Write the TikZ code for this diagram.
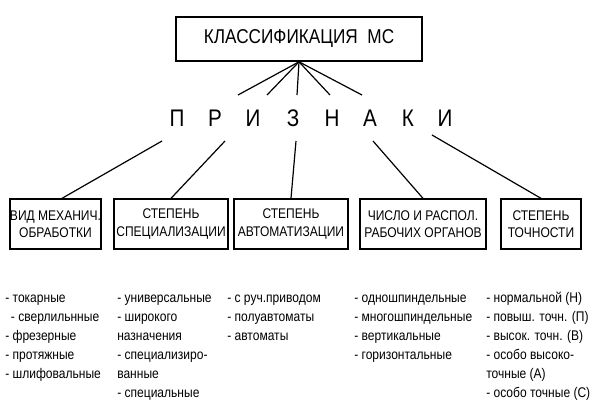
\documentclass[tikz,border=0pt]{standalone}
\usepackage{fontspec}
\setmainfont[FakeStretch=0.86]{Liberation Sans}
\begin{document}
\begin{tikzpicture}[x=0.75pt,y=0.75pt,yscale=-1,xscale=1,
  box/.style={draw,line width=1pt,align=center,inner sep=0pt,font=\fontsize{10.5}{13}\selectfont},
  item/.style={anchor=base west,inner sep=0pt,font=\fontsize{10.5}{12}\selectfont},
  conn/.style={line width=0.9pt}]
\useasboundingbox (0,0) rectangle (613,412);

% title
\node [draw,line width=1.2pt,minimum width=246*0.75pt,minimum height=44*0.75pt,font=\fontsize{15}{17}\selectfont] (title) at (299,39) {КЛАССИФИКАЦИЯ~~МС};

% letters
\foreach \ch/\xx [count=\i] in {П/177,Р/215,И/253,З/293,Н/332,А/370,К/408,И/445}
  \node [font=\fontsize{18}{20}\selectfont,inner sep=0pt] (L\i) at (\xx,118) {\ch};

% fan ends
\foreach \xx [count=\i] in {238,267,297,330,362}
  \coordinate (f\i) at (\xx,95);
\foreach \i in {1,...,5}
  \draw [conn] (title.south) -- (f\i);

% boxes
\node [box,minimum width=87*0.75pt,minimum height=50*0.75pt] (b1) at (55.5,224) {ВИД МЕХАНИЧ.\\ОБРАБОТКИ};
\node [box,minimum width=114*0.75pt,minimum height=50*0.75pt] (b2) at (171,224) {СТЕПЕНЬ\\СПЕЦИАЛИЗАЦИИ};
\node [box,minimum width=114*0.75pt,minimum height=50*0.75pt] (b3) at (291,224) {СТЕПЕНЬ\\АВТОМАТИЗАЦИИ};
\node [box,minimum width=126*0.75pt,minimum height=50*0.75pt] (b4) at (423,224) {ЧИСЛО И РАСПОЛ.\\РАБОЧИХ ОРГАНОВ};
\node [box,minimum width=80*0.75pt,minimum height=50*0.75pt] (b5) at (541,224) {СТЕПЕНЬ\\ТОЧНОСТИ};

% lower connectors
\coordinate (s1) at (162,141);
\coordinate (s2) at (225,141);
\coordinate (s3) at (296,141);
\coordinate (s4) at (373,141);
\coordinate (s5) at (432,135);
\draw [conn] (s1) -- (b1.north -| 62,0);
\draw [conn] (s2) -- (b2.north);
\draw [conn] (s3) -- (b3.north);
\draw [conn] (s4) -- (b4.north);
\draw [conn] (s5) -- (b5.north);

% lists
\foreach \t [count=\i] in {- токарные,{\ \,- сверлильнные},- фрезерные,- протяжные,- шлифовальные}
  \node [item] (p\i) at (5,283+19*\i) {\t};
\foreach \t [count=\i] in {- универсальные,- широкого,назначения,- специализиро-,ванные,- специальные}
  \node [item] (q\i) at (117,283+19*\i) {\t};
\foreach \t [count=\i] in {- с руч.приводом,- полуавтоматы,- автоматы}
  \node [item] (r\i) at (227,283+19*\i) {\t};
\foreach \t [count=\i] in {- одношпиндельные,- многошпиндельные,- вертикальные,- горизонтальные}
  \node [item] (u\i) at (354,283+19*\i) {\t};
\foreach \t [count=\i] in {- нормальной (Н),- повыш. точн. (П),- высок. точн. (В),- особо высоко-,точные (А),- особо точные (С)}
  \node [item] (v\i) at (486,283+19*\i) {\t};
\end{tikzpicture}
\end{document}
